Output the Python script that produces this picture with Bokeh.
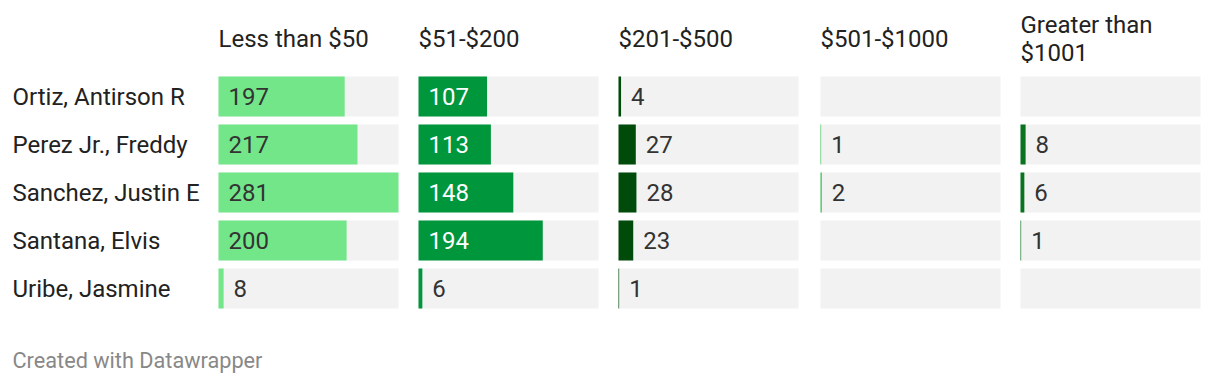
from bokeh.plotting import figure
from bokeh.models import ColumnDataSource, FactorRange, Range1d, Label
from bokeh.core.properties import value
from bokeh.embed import file_html
from bokeh.resources import INLINE

# ---- data ----
names = ["Ortiz, Antirson R", "Perez Jr., Freddy", "Sanchez, Justin E",
         "Santana, Elvis", "Uribe, Jasmine"]
headers = ["Less than $50", "$51-$200", "$201-$500", "$501-$1000", "Greater than\n$1001"]
less_than_50 = [197, 217, 281, 200, 8]
d51_200 = [107, 113, 148, 194, 6]
d201_500 = [4, 27, 28, 23, 1]
d501_1000 = [None, 1, 2, None, None]
greater_1001 = [None, 8, 6, 1, None]

series = [less_than_50, d51_200, d201_500, d501_1000, greater_1001]
colors = ["#74e68a", "#00963c", "#004a0a", "#40c05a", "#0a7320"]
inner_text = ["#333333", "#ffffff", "#ffffff", "#ffffff", "#ffffff"]

# ---- layout ----
W, H = 1204, 384
FONT = "Roboto"
vmax = max(v for s in series for v in s if v is not None)
bar_px = 180
k = bar_px / vmax                      # pixels per unit
col_px = [218, 418, 618, 820, 1020]    # left edge of each column (px)
offs = [(c - col_px[0]) / k for c in col_px]

p = figure(width=W, height=H, output_backend="svg", toolbar_location=None,
           x_range=Range1d(-col_px[0] / k, (W - col_px[0]) / k),
           y_range=FactorRange(factors=names[::-1], range_padding=2 * (72 / 48) / 5),
           x_axis_location=None, y_axis_location=None,
           min_border=0, outline_line_color=None)
p.grid.visible = False
p.background_fill_color = "white"
p.border_fill_color = "white"

bar_h = 40 / 48

for j, s in enumerate(series):
    # grey background track
    p.hbar(y=names, left=[offs[j]] * len(names), right=[offs[j] + vmax] * len(names),
           height=bar_h, color="#f2f2f2", line_color=None)
    ys, vals = [], []
    for n, v in zip(names, s):
        if v is not None:
            ys.append(n)
            vals.append(v)
    src = ColumnDataSource(dict(
        y=ys,
        left=[offs[j]] * len(ys),
        right=[offs[j] + v for v in vals],
        tx=[offs[j] + (0 if v * k > 40 else v) for v in vals],
        txt=[str(v) for v in vals],
        tc=[inner_text[j] if v * k > 40 else "#333333" for v in vals],
    ))
    p.hbar(y="y", left="left", right="right", height=bar_h, color=colors[j],
           line_color=None, source=src)
    p.text(x="tx", y="y", text="txt", source=src, x_offset=10,
           text_color="tc", text_baseline="middle", text_align="left",
           text_font=value(FONT), text_font_size="24px")

# row labels
p.text(x=[-206 / k] * len(names), y=names, text=names, text_baseline="middle",
       text_align="left", text_color="#222222", text_font=value(FONT),
       text_font_size="24px")

# column headers
for j, h in enumerate(headers):
    lines = h.split("\n")
    n = len(lines)
    for i, ln in enumerate(lines):
        yc = (H - 38) + (n - 1) * 14 - i * 28
        p.add_layout(Label(x=offs[j], x_units="data", y=yc, y_units="screen",
                           text=ln, text_baseline="middle", text_align="left",
                           text_color="#222222", text_font=FONT,
                           text_font_size="24px"))

# footer
p.add_layout(Label(x=12, x_units="screen", y=H - 360, y_units="screen",
                   text="Created with Datawrapper", text_baseline="middle",
                   text_align="left", text_color="#888888", text_font=FONT,
                   text_font_size="21.7px"))

open("out.html", "w").write(file_html(p, INLINE))
